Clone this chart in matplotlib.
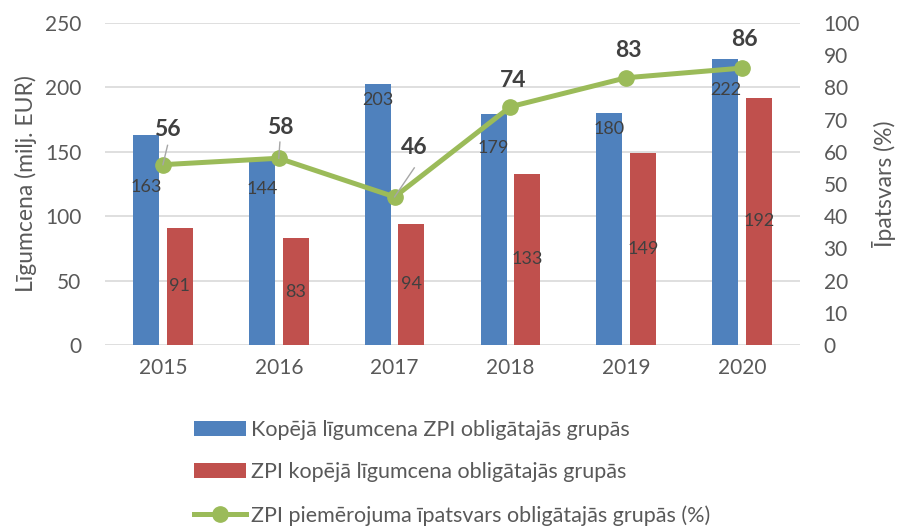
import matplotlib
matplotlib.use("Agg")
import matplotlib.pyplot as plt
import numpy as np

plt.rcParams['font.family'] = ['Lato', 'DejaVu Sans']

years = ['2015', '2016', '2017', '2018', '2019', '2020']
total_value = [163, 144, 203, 179, 180, 222]
zpi_value = [91, 83, 94, 133, 149, 192]
zpi_share = [56, 58, 46, 74, 83, 86]

series_names = ['Kopējā līgumcena ZPI obligātajās grupās',
                'ZPI kopējā līgumcena obligātajās grupās',
                'ZPI piemērojuma īpatsvars obligātajās grupās (%)']

# label positions (layout, not data)
blue_label_y = [123, 121, 190, 153, 168, 198]
green_label_pos = [(0.04, 67), (1.01, 67.7), (2.17, 61.2), (3.02, 82), (4.02, 91.6), (5.02, 95)]
leaders = {0: (0.04, 62.0), 1: (1.01, 63.0), 2: (2.17, 55.0)}

c_blue = '#4F81BD'
c_red = '#C0504D'
c_green = '#9BBB59'
c_text = '#595959'
c_lab = '#404040'

fig = plt.figure(figsize=(8.98, 5.30), dpi=100)
ax = fig.add_axes([105/898, 1-345/530, 695/898, 322/530])
ax2 = ax.twinx()

x = np.arange(len(years))
w = 0.225
off = 0.145
ax.bar(x - off, total_value, w, color=c_blue, zorder=2, label=series_names[0])
ax.bar(x + off, zpi_value, w, color=c_red, zorder=2, label=series_names[1])
ln, = ax2.plot(x, zpi_share, color=c_green, lw=3.6, marker='o', markersize=11, zorder=3,
               label=series_names[2])

ax.set_xlim(-0.5, 5.5)
ax.set_ylim(0, 250)
ax.set_yticks(np.arange(0, 251, 50))
ax2.set_ylim(0, 100)
ax2.set_yticks(np.arange(0, 101, 10))
ax.set_xticks(x)
ax.set_xticklabels(years)
ax.grid(axis='y', color='#D9D9D9', lw=1.2, zorder=0)
ax.set_axisbelow(True)
for a in (ax, ax2):
    for s in a.spines.values():
        s.set_visible(False)
    a.tick_params(length=0, labelsize=15, colors=c_text)
ax.tick_params(axis='y', pad=17)
ax.tick_params(axis='x', pad=9)
ax2.tick_params(axis='y', pad=17)
ax.set_ylabel('Līgumcena (milj. EUR)', fontsize=16.5, color=c_text, labelpad=6)
ax2.set_ylabel('Īpatsvars (%)', fontsize=16.5, color=c_text, labelpad=9)

for i in range(len(years)):
    ax.text(x[i] - off, blue_label_y[i], str(total_value[i]), ha='center', va='center',
            fontsize=13, color=c_lab, zorder=4)
    ax.text(x[i] + off, zpi_value[i] / 2, str(zpi_value[i]), ha='center', va='center',
            fontsize=13, color=c_lab, zorder=4)
    gx, gy = green_label_pos[i]
    ax2.text(gx, gy, str(zpi_share[i]), ha='center', va='center', fontsize=16.5,
             fontweight='bold', color=c_lab, zorder=5)
    if i in leaders:
        lx, ly = leaders[i]
        ax2.plot([lx, x[i]], [ly, zpi_share[i]], color='#A6A6A6', lw=1, zorder=4)

ax2.set_zorder(ax.get_zorder() + 1)
ax2.patch.set_visible(False)

handles = [ax.containers[0], ax.containers[1], ln]
leg = fig.legend(handles, series_names, loc='upper left', bbox_to_anchor=(183/898, 1-409/530),
                 frameon=False, fontsize=15.5, handlelength=2.42,
                 handletextpad=0.23, labelspacing=1.05, borderpad=0)
plt.setp(leg.get_texts(), color=c_text)

fig.savefig('out.png', dpi=100)
